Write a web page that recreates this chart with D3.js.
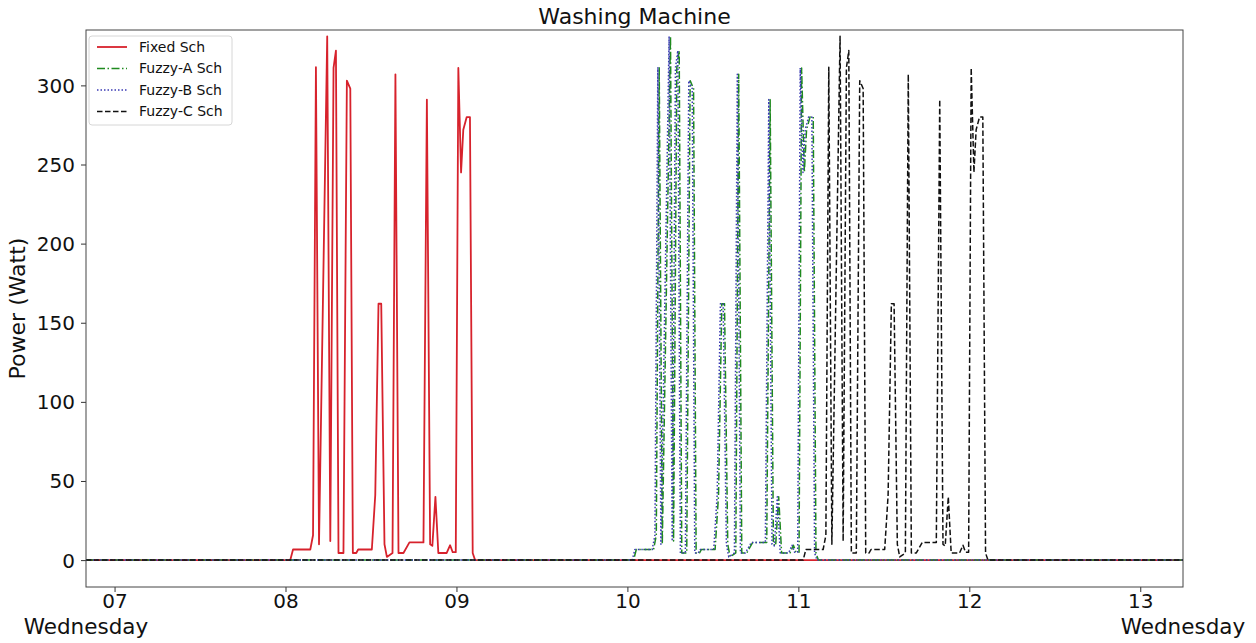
<!DOCTYPE html>
<html>
<head>
<meta charset="utf-8">
<script src="https://cdn.jsdelivr.net/npm/d3@7"></script>
<style>
  body { margin: 0; background: #fff; }
  text { font-family: "DejaVu Sans", sans-serif; }
</style>
</head>
<body>
<svg id="chart" width="1256" height="643"></svg>
<script>
// power profile of one washing cycle (Watt)
var fixedPower = [0, 0, 6.7, 6.7, 15.7, 311.5, 10, 331, 12, 311, 322, 4.5, 4.5, 303, 298, 4.5, 4.5, 6.7, 6.7, 41, 162, 162, 10, 2, 4.5, 307, 4.5, 4.5, 11.2, 11.2, 291, 10, 9, 40, 4.5, 4.5, 9.4, 5, 5, 311, 245, 272, 280, 280, 4.5, 0, 0];
var fuzzyAPower = [0, 0, 6.7, 6.7, 15.7, 311.5, 10, 331, 12, 311, 322, 4.5, 4.5, 303, 298, 4.5, 4.5, 6.7, 6.7, 41, 162, 162, 10, 2, 4.5, 307, 4.5, 4.5, 11.2, 11.2, 291, 10, 9, 40, 4.5, 4.5, 9.4, 5, 5, 311, 245, 272, 280, 280, 4.5, 0, 0];
var fuzzyBPower = [0, 0, 6.7, 6.7, 15.7, 311.5, 10, 331, 12, 311, 322, 4.5, 4.5, 303, 298, 4.5, 4.5, 6.7, 6.7, 41, 162, 162, 10, 2, 4.5, 307, 4.5, 4.5, 11.2, 11.2, 291, 10, 9, 40, 4.5, 4.5, 9.4, 5, 5, 311, 245, 272, 280, 280, 4.5, 0, 0];
var fuzzyCPower = [0, 0, 6.7, 6.7, 15.7, 311.5, 10, 331, 12, 311, 322, 4.5, 4.5, 303, 298, 4.5, 4.5, 6.7, 6.7, 41, 162, 162, 10, 2, 4.5, 307, 4.5, 4.5, 11.2, 11.2, 291, 10, 9, 40, 4.5, 4.5, 9.4, 5, 5, 311, 245, 272, 280, 280, 4.5, 0, 0];

// clock time in decimal hours
var fixedTime = [6.833, 8.028, 8.044, 8.145, 8.161, 8.178, 8.196, 8.244, 8.262, 8.281, 8.295, 8.310, 8.339, 8.359, 8.379, 8.394, 8.414, 8.425, 8.505, 8.525, 8.544, 8.560, 8.579, 8.593, 8.626, 8.643, 8.661, 8.690, 8.725, 8.807, 8.827, 8.846, 8.859, 8.877, 8.894, 8.943, 8.963, 8.978, 8.996, 9.011, 9.027, 9.040, 9.060, 9.079, 9.095, 9.109, 13.25];
var fuzzyATime = [6.833, 10.036, 10.052, 10.153, 10.169, 10.186, 10.204, 10.252, 10.270, 10.289, 10.303, 10.318, 10.347, 10.367, 10.387, 10.402, 10.422, 10.433, 10.513, 10.533, 10.552, 10.568, 10.587, 10.601, 10.634, 10.651, 10.669, 10.698, 10.733, 10.815, 10.835, 10.854, 10.867, 10.885, 10.902, 10.951, 10.971, 10.986, 11.004, 11.019, 11.035, 11.048, 11.068, 11.087, 11.103, 11.117, 13.25];
var fuzzyBTime = [6.833, 10.028, 10.044, 10.145, 10.161, 10.178, 10.196, 10.244, 10.262, 10.281, 10.295, 10.310, 10.339, 10.359, 10.379, 10.394, 10.414, 10.425, 10.505, 10.525, 10.544, 10.560, 10.579, 10.593, 10.626, 10.643, 10.661, 10.690, 10.725, 10.807, 10.827, 10.846, 10.859, 10.877, 10.894, 10.943, 10.963, 10.978, 10.996, 11.011, 11.027, 11.040, 11.060, 11.079, 11.095, 11.109, 13.25];
var fuzzyCTime = [6.833, 11.028, 11.044, 11.145, 11.161, 11.178, 11.196, 11.244, 11.262, 11.281, 11.295, 11.310, 11.339, 11.359, 11.379, 11.394, 11.414, 11.425, 11.505, 11.525, 11.544, 11.560, 11.579, 11.593, 11.626, 11.643, 11.661, 11.690, 11.725, 11.807, 11.827, 11.846, 11.859, 11.877, 11.894, 11.943, 11.963, 11.978, 11.996, 12.011, 12.027, 12.040, 12.060, 12.079, 12.095, 12.109, 13.25];

var seriesNames = ["Fixed Sch", "Fuzzy-A Sch", "Fuzzy-B Sch", "Fuzzy-C Sch"];
var hourTicks = [7, 8, 9, 10, 11, 12, 13];
var powerTicks = [0, 50, 100, 150, 200, 250, 300];

// a Wednesday
var day = new Date(2023, 0, 4);
function toDate(h) { return new Date(day.getTime() + h * 3600e3); }

var margin = {left: 86, right: 73, top: 30, bottom: 56};
var svg = d3.select("#chart"),
    width = +svg.attr("width"),
    height = +svg.attr("height");

var x = d3.scaleTime()
    .domain([toDate(6.833), toDate(13.25)])
    .range([margin.left, width - margin.right]);
var y = d3.scaleLinear()
    .domain([-17, 335])
    .range([height - margin.bottom, margin.top]);

var styles = [
    {color: "#d7222c", dash: null, width: 1.8},
    {color: "#1f8a1f", dash: "8,2.5,1.5,2.5", width: 1.5},
    {color: "#3a3ab4", dash: "1.5,2", width: 1.5},
    {color: "#111", dash: "5.5,2.5", width: 1.5}
];

var series = [
    {name: seriesNames[0], time: fixedTime, power: fixedPower},
    {name: seriesNames[1], time: fuzzyATime, power: fuzzyAPower},
    {name: seriesNames[2], time: fuzzyBTime, power: fuzzyBPower},
    {name: seriesNames[3], time: fuzzyCTime, power: fuzzyCPower}
];
series.forEach(function (s, i) {
    s.style = styles[i];
    s.points = s.time.map(function (t, j) { return {t: toDate(t), p: s.power[j]}; });
});

var line = d3.line()
    .x(function (d) { return x(d.t); })
    .y(function (d) { return y(d.p); });

svg.append("defs").append("clipPath").attr("id", "clip")
    .append("rect")
    .attr("x", margin.left).attr("y", margin.top)
    .attr("width", width - margin.left - margin.right)
    .attr("height", height - margin.top - margin.bottom);

svg.append("g")
    .attr("clip-path", "url(#clip)")
    .selectAll("path")
    .data(series)
    .enter().append("path")
    .attr("d", function (d) { return line(d.points); })
    .attr("fill", "none")
    .attr("stroke", function (d) { return d.style.color; })
    .attr("stroke-width", function (d) { return d.style.width; })
    .attr("stroke-dasharray", function (d) { return d.style.dash; })
    .attr("stroke-linejoin", "round");

// axes
var xAxis = svg.append("g")
    .attr("transform", "translate(0," + (height - margin.bottom) + ")")
    .call(d3.axisBottom(x)
        .tickValues(hourTicks.map(toDate))
        .tickFormat(d3.timeFormat("%H"))
        .tickSize(5)
        .tickPadding(2));
var yAxis = svg.append("g")
    .attr("transform", "translate(" + margin.left + ",0)")
    .call(d3.axisLeft(y)
        .tickValues(powerTicks)
        .tickSize(5)
        .tickPadding(6));

[xAxis, yAxis].forEach(function (a) {
    a.select(".domain").remove();
    a.selectAll(".tick line").attr("stroke", "#333");
    a.selectAll(".tick text").attr("font-size", 20).attr("fill", "#111")
        .style("font-family", "DejaVu Sans, sans-serif");
});
yAxis.selectAll(".tick text").attr("dy", "0.35em");

svg.append("rect")
    .attr("x", margin.left).attr("y", margin.top)
    .attr("width", width - margin.left - margin.right)
    .attr("height", height - margin.top - margin.bottom)
    .attr("fill", "none")
    .attr("stroke", "#444")
    .attr("stroke-width", 1);

// day labels at both ends
[margin.left, width - margin.right].forEach(function (px) {
    svg.append("text")
        .attr("x", px).attr("y", 634)
        .attr("text-anchor", "middle")
        .attr("font-size", 21.5)
        .attr("fill", "#111")
        .text("Wednesday");
});

svg.append("text")
    .attr("x", (margin.left + width - margin.right) / 2).attr("y", 24)
    .attr("text-anchor", "middle")
    .attr("font-size", 22)
    .attr("fill", "#111")
    .text("Washing Machine");

svg.append("text")
    .attr("transform", "translate(25," + ((margin.top + height - margin.bottom) / 2) + ") rotate(-90)")
    .attr("text-anchor", "middle")
    .attr("font-size", 22)
    .attr("fill", "#111")
    .text("Power (Watt)");

// legend
var legend = svg.append("g").attr("transform", "translate(89,36)");
legend.append("rect")
    .attr("width", 143).attr("height", 89)
    .attr("rx", 3)
    .attr("fill", "#fff")
    .attr("fill-opacity", 0.85)
    .attr("stroke", "#d6d6d6");
var item = legend.selectAll(".item")
    .data(series)
    .enter().append("g")
    .attr("class", "item")
    .attr("transform", function (d, i) { return "translate(0," + (11 + i * 21.5) + ")"; });
item.append("line")
    .attr("x1", 8).attr("x2", 38)
    .attr("stroke", function (d) { return d.style.color; })
    .attr("stroke-width", function (d) { return d.style.width; })
    .attr("stroke-dasharray", function (d) { return d.style.dash; });
item.append("text")
    .attr("x", 50).attr("dy", "0.35em")
    .attr("font-size", 14)
    .attr("fill", "#111")
    .text(function (d) { return d.name; });
</script>
</body>
</html>
